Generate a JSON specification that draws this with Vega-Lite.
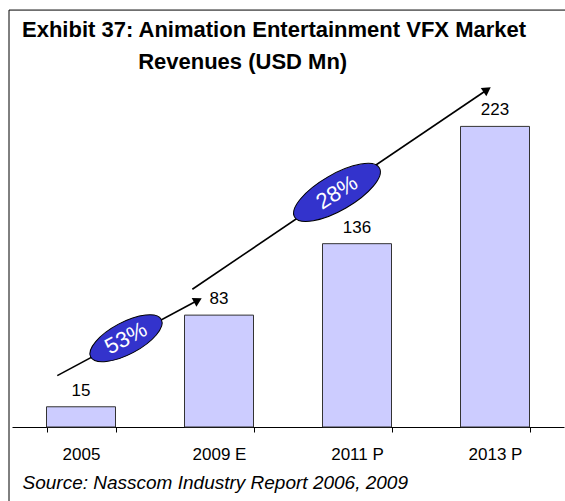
{
  "$schema": "https://vega.github.io/schema/vega-lite/v6.json",
  "width": 552,
  "height": 337,
  "autosize": {"type": "none"},
  "padding": {"left": 12, "top": 90, "right": 1, "bottom": 74},
  "background": "white",
  "title": {
    "text": ["Exhibit 37: Animation Entertainment VFX Market", "\u200b\u00a0\u00a0\u00a0\u00a0\u00a0\u00a0\u00a0\u00a0\u00a0\u00a0\u00a0\u00a0\u00a0\u00a0\u00a0\u00a0\u00a0\u00a0\u00a0Revenues (USD Mn)"],
    "anchor": "start",
    "frame": "group",
    "dx": 10,
    "fontSize": 22,
    "fontWeight": "bold",
    "font": "Liberation Sans",
    "lineHeight": 32,
    "baseline": "alphabetic",
    "offset": -81,
    "color": "black"
  },
  "datasets": {
    "bars": [
      {"year": "2005", "value": 15},
      {"year": "2009 E", "value": 83},
      {"year": "2011 P", "value": 136},
      {"year": "2013 P", "value": 223}
    ],
    "arrows": [
      {"id": "a1", "x": 0.328, "y": 38.1, "x2": 1.347, "y2": 94.0},
      {"id": "a2", "x": 1.307, "y": 102.2, "x2": 3.443, "y2": 250.2}
    ],
    "badges": [
      {"id": "b1", "x": 0.826, "y": 65.8, "label": "53%"},
      {"id": "b2", "x": 2.355, "y": 174.0, "label": "28%"}
    ],
    "frame": [
      {"x": -0.0217, "y": 309.3, "x2": 4.2, "y2": 309.3},
      {"x": -0.0217, "y": 309.3, "x2": -0.0217, "y2": -60}
    ]
  },
  "layer": [
    {
      "data": {"name": "bars"},
      "encoding": {
        "x": {
          "field": "year", "type": "nominal", "sort": null,
          "scale": {"paddingInner": 0.5, "paddingOuter": 0.25},
          "axis": {
            "title": "Source: Nasscom Industry Report 2006, 2009",
            "titleFontStyle": "italic", "titleFontWeight": "normal", "titleFontSize": 19,
            "titleFont": "Liberation Sans", "titleColor": "black",
            "titleAnchor": "start", "titleAlign": "left", "titleX": 10, "titleY": 61,
            "titleBaseline": "alphabetic",
            "labelAngle": 0, "labelFontSize": 17, "labelFont": "Liberation Sans",
            "labelPadding": 14, "labelColor": "black",
            "domainColor": "black", "tickColor": "black", "tickSize": 5,
            "tickBand": "extent", "domainWidth": 1, "tickWidth": 1
          }
        },
        "y": {
          "field": "value", "type": "quantitative",
          "scale": {"domain": [0, 250], "nice": false},
          "axis": null
        }
      },
      "layer": [
        {"mark": {"type": "bar", "fill": "#CCCCFF", "stroke": "#333333", "strokeWidth": 1}},
        {
          "mark": {"type": "text", "dy": -11, "baseline": "alphabetic", "fontSize": 17, "font": "Liberation Sans", "color": "black"},
          "encoding": {"text": {"field": "value", "type": "quantitative"}}
        }
      ]
    },
    {
      "encoding": {
        "x": {"field": "x", "type": "quantitative", "scale": {"domain": [0, 4], "nice": false, "zero": false}, "axis": null},
        "y": {"field": "y", "type": "quantitative", "scale": {"domain": [0, 250], "nice": false}, "axis": null}
      },
      "layer": [
        {
          "data": {"name": "frame"},
          "mark": {"type": "rule", "color": "black", "strokeWidth": 1},
          "encoding": {"x2": {"field": "x2"}, "y2": {"field": "y2"}}
        },
        {
          "data": {"name": "arrows"},
          "mark": {"type": "rule", "color": "black", "strokeWidth": 1.6},
          "encoding": {"x2": {"field": "x2"}, "y2": {"field": "y2"}}
        },
        {
          "data": {"name": "arrows"},
          "transform": [{"filter": "datum.id == 'a1'"}],
          "mark": {"type": "point", "shape": "triangle-up", "angle": 61.8, "size": 100, "filled": true, "fill": "black", "opacity": 1},
          "encoding": {
            "x": {"field": "x2", "type": "quantitative"},
            "y": {"field": "y2", "type": "quantitative"}
          }
        },
        {
          "data": {"name": "arrows"},
          "transform": [{"filter": "datum.id == 'a2'"}],
          "mark": {"type": "point", "shape": "triangle-up", "angle": 55.9, "size": 100, "filled": true, "fill": "black", "opacity": 1},
          "encoding": {
            "x": {"field": "x2", "type": "quantitative"},
            "y": {"field": "y2", "type": "quantitative"}
          }
        },
        {
          "data": {"name": "badges"},
          "transform": [{"filter": "datum.id == 'b1'"}],
          "mark": {"type": "point", "shape": "M -1 0 A 1 0.4 0 1 1 1 0 A 1 0.4 0 1 1 -1 0 Z", "size": 6400, "angle": 332, "filled": true, "fill": "#3333CC", "stroke": "black", "strokeWidth": 1, "opacity": 1}
        },
        {
          "data": {"name": "badges"},
          "transform": [{"filter": "datum.id == 'b2'"}],
          "mark": {"type": "point", "shape": "M -1 0 A 1 0.367 0 1 1 1 0 A 1 0.367 0 1 1 -1 0 Z", "size": 9604, "angle": 330, "filled": true, "fill": "#3333CC", "stroke": "black", "strokeWidth": 1, "opacity": 1}
        },
        {
          "data": {"name": "badges"},
          "transform": [{"filter": "datum.id == 'b1'"}],
          "mark": {"type": "text", "angle": 332, "fontSize": 22, "font": "Liberation Sans", "color": "white", "align": "center", "baseline": "middle"},
          "encoding": {"text": {"field": "label", "type": "nominal"}}
        },
        {
          "data": {"name": "badges"},
          "transform": [{"filter": "datum.id == 'b2'"}],
          "mark": {"type": "text", "angle": 328, "fontSize": 22, "font": "Liberation Sans", "color": "white", "align": "center", "baseline": "middle"},
          "encoding": {"text": {"field": "label", "type": "nominal"}}
        }
      ]
    }
  ],
  "resolve": {"scale": {"x": "independent"}},
  "config": {"view": {"stroke": null}}
}
